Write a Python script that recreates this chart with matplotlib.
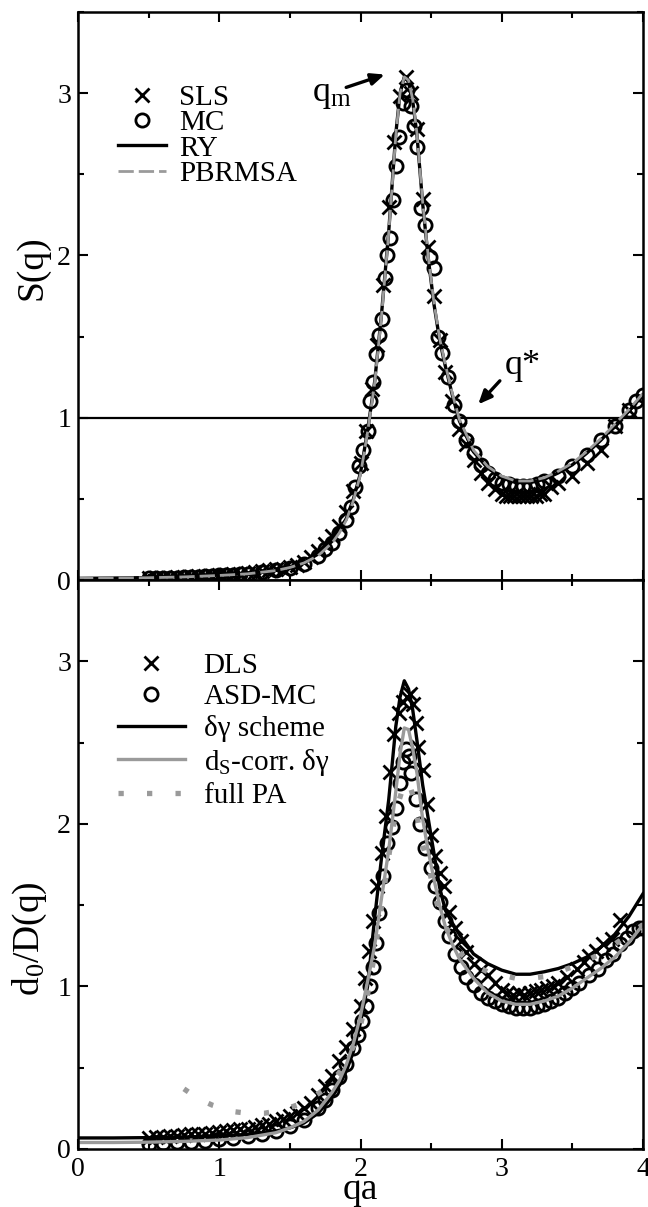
import matplotlib.pyplot as plt
from matplotlib.ticker import MultipleLocator

plt.rcParams['font.family'] = ['Liberation Serif', 'DejaVu Serif']
plt.rcParams['mathtext.fontset'] = 'custom'
plt.rcParams['mathtext.rm'] = 'Liberation Serif'
plt.rcParams['mathtext.it'] = 'Liberation Serif:italic'

# ---- static structure factor S(q) ----
q_th = [0, 0.25, 0.5, 0.75, 1.0, 1.2, 1.4, 1.5, 1.6, 1.7, 1.8, 1.85, 1.9, 1.95,
        2.0, 2.05, 2.1, 2.15, 2.2, 2.25, 2.28, 2.31, 2.34, 2.37, 2.4, 2.44, 2.48,
        2.52, 2.56, 2.6, 2.65, 2.7, 2.8, 2.9, 3.0, 3.1, 3.2, 3.3, 3.4, 3.5, 3.6,
        3.7, 3.8, 3.9, 4.0]
s_ry = [0.01, 0.012, 0.015, 0.02, 0.03, 0.04, 0.06, 0.08, 0.11, 0.16, 0.24, 0.30,
        0.38, 0.50, 0.66, 0.92, 1.22, 1.65, 2.15, 2.75, 3.00, 3.10, 3.07, 2.95,
        2.74, 2.32, 1.98, 1.70, 1.48, 1.32, 1.14, 0.98, 0.79, 0.69, 0.63, 0.60,
        0.60, 0.62, 0.66, 0.71, 0.78, 0.86, 0.95, 1.04, 1.14]
s_pb = [0.01, 0.012, 0.014, 0.019, 0.028, 0.038, 0.058, 0.077, 0.105, 0.15, 0.23,
        0.29, 0.37, 0.49, 0.65, 0.91, 1.21, 1.64, 2.14, 2.74, 3.00, 3.10, 3.08,
        2.96, 2.75, 2.33, 1.99, 1.71, 1.49, 1.33, 1.15, 0.99, 0.80, 0.70, 0.64,
        0.61, 0.61, 0.63, 0.67, 0.72, 0.79, 0.87, 0.96, 1.05, 1.15]

q_sls = [0.5, 0.55, 0.6, 0.65, 0.7, 0.75, 0.8, 0.85, 0.9, 0.95, 1.0, 1.05, 1.1,
         1.15, 1.2, 1.25, 1.3, 1.35, 1.4, 1.45, 1.5, 1.55, 1.6, 1.65, 1.7, 1.75,
         1.8, 1.85, 1.9, 1.95, 2.0, 2.04, 2.08, 2.12, 2.16, 2.2, 2.24, 2.28, 2.32,
         2.36, 2.4, 2.44, 2.48, 2.52, 2.56, 2.6, 2.65, 2.7, 2.75, 2.8, 2.85, 2.9,
         2.95, 3.0, 3.03, 3.06, 3.09, 3.12, 3.15, 3.18, 3.21, 3.24, 3.27, 3.3,
         3.35, 3.4, 3.5, 3.6, 3.7, 3.8, 3.9]
s_sls = [0.01, 0.012, 0.013, 0.015, 0.016, 0.018, 0.02, 0.022, 0.025, 0.027,
         0.03, 0.033, 0.036, 0.04, 0.045, 0.05, 0.055, 0.06, 0.065, 0.07, 0.08,
         0.09, 0.11, 0.14, 0.18, 0.22, 0.27, 0.33, 0.42, 0.55, 0.72, 0.92, 1.18,
         1.45, 1.82, 2.30, 2.70, 2.98, 3.10, 3.00, 2.78, 2.35, 2.05, 1.75, 1.48,
         1.28, 1.10, 0.93, 0.84, 0.74, 0.66, 0.60, 0.56, 0.53, 0.52, 0.52, 0.52,
         0.52, 0.52, 0.52, 0.52, 0.52, 0.53, 0.53, 0.57, 0.60, 0.64, 0.72, 0.80,
         0.95, 1.05]

q_mc = [0.5, 0.55, 0.6, 0.65, 0.7, 0.75, 0.8, 0.85, 0.9, 0.95, 1.0, 1.05, 1.1,
        1.15, 1.2, 1.3, 1.4, 1.5, 1.6, 1.7, 1.75, 1.8, 1.85, 1.9, 1.93, 1.96,
        1.99, 2.02, 2.05, 2.07, 2.09, 2.11, 2.13, 2.15, 2.17, 2.19, 2.21, 2.23,
        2.25, 2.27, 2.30, 2.33, 2.36, 2.38, 2.40, 2.43, 2.46, 2.49, 2.52, 2.55,
        2.58, 2.62, 2.66, 2.70, 2.75, 2.8, 2.85, 2.9, 2.95, 3.0, 3.05, 3.1, 3.15,
        3.2, 3.25, 3.3, 3.4, 3.5, 3.6, 3.7, 3.8, 3.9, 3.95, 4.0]
s_mc = [0.01, 0.011, 0.012, 0.013, 0.015, 0.016, 0.018, 0.02, 0.022, 0.025,
        0.028, 0.03, 0.033, 0.036, 0.04, 0.05, 0.06, 0.075, 0.10, 0.15, 0.19,
        0.23, 0.29, 0.37, 0.45, 0.57, 0.70, 0.80, 0.92, 1.10, 1.22, 1.39, 1.51,
        1.61, 1.86, 2.00, 2.11, 2.34, 2.55, 2.73, 2.94, 3.02, 2.92, 2.80, 2.67,
        2.29, 2.19, 1.99, 1.92, 1.50, 1.40, 1.25, 1.08, 0.98, 0.86, 0.78, 0.71,
        0.66, 0.62, 0.60, 0.59, 0.58, 0.58, 0.58, 0.59, 0.61, 0.64, 0.70, 0.77,
        0.86, 0.95, 1.05, 1.10, 1.14]

# ---- inverse collective diffusion d0/D(q) ----
d_dg = [0.068, 0.068, 0.07, 0.073, 0.08, 0.09, 0.11, 0.13, 0.16, 0.22, 0.32,
        0.39, 0.48, 0.60, 0.78, 1.00, 1.42, 1.80, 2.15, 2.60, 2.78, 2.88, 2.83,
        2.70, 2.51, 2.24, 2.03, 1.82, 1.61, 1.47, 1.39, 1.32, 1.20, 1.14, 1.10,
        1.075, 1.075, 1.09, 1.11, 1.14, 1.18, 1.24, 1.32, 1.43, 1.57]
d_ds = [0.04, 0.04, 0.042, 0.047, 0.055, 0.07, 0.10, 0.13, 0.17, 0.24, 0.35,
        0.42, 0.52, 0.65, 0.82, 1.03, 1.25, 1.55, 1.84, 2.20, 2.43, 2.59, 2.58,
        2.46, 2.31, 2.03, 1.83, 1.66, 1.50, 1.37, 1.26, 1.17, 1.05, 0.96, 0.91,
        0.89, 0.89, 0.91, 0.94, 0.99, 1.05, 1.11, 1.18, 1.27, 1.38]

q_pa = [0.75, 0.85, 0.95, 1.1, 1.2, 1.32, 1.45, 1.55, 1.65, 1.75, 1.85, 1.95,
        2.0, 2.05, 2.1, 2.15, 2.2, 2.25, 2.3, 2.34, 2.38, 2.43, 2.48, 2.52, 2.56,
        2.6, 2.7, 2.8, 2.9, 3.0, 3.1, 3.2, 3.3, 3.4, 3.5, 3.6, 3.7, 3.8, 3.9, 4.0]
d_pa = [0.37, 0.31, 0.27, 0.23, 0.22, 0.22, 0.24, 0.27, 0.31, 0.37, 0.47, 0.63,
        0.76, 0.95, 1.20, 1.50, 1.80, 2.08, 2.22, 2.26, 2.15, 1.90, 1.75, 1.58,
        1.45, 1.37, 1.21, 1.13, 1.09, 1.07, 1.05, 1.05, 1.06, 1.09, 1.12, 1.16,
        1.20, 1.26, 1.32, 1.38]

q_dls = [0.5, 0.55, 0.6, 0.65, 0.7, 0.75, 0.8, 0.85, 0.9, 0.95, 1.0, 1.05, 1.1,
         1.15, 1.2, 1.25, 1.3, 1.35, 1.4, 1.45, 1.5, 1.55, 1.6, 1.65, 1.7, 1.75,
         1.8, 1.85, 1.9, 1.95, 2.0, 2.03, 2.06, 2.09, 2.12, 2.15, 2.18, 2.21, 2.24,
         2.27, 2.3, 2.33, 2.35, 2.37, 2.39, 2.41, 2.44, 2.47, 2.5, 2.53, 2.56,
         2.59, 2.63, 2.67, 2.71, 2.75, 2.8, 2.85, 2.9, 2.95, 3.0, 3.04, 3.08,
         3.12, 3.16, 3.2, 3.24, 3.28, 3.32, 3.36, 3.4, 3.46, 3.53, 3.58, 3.62,
         3.67, 3.72, 3.78, 3.84]
d_dls = [0.07, 0.075, 0.075, 0.08, 0.08, 0.085, 0.09, 0.09, 0.095, 0.10, 0.105,
         0.11, 0.115, 0.12, 0.125, 0.135, 0.145, 0.155, 0.17, 0.185, 0.20, 0.22,
         0.25, 0.28, 0.33, 0.39, 0.45, 0.54, 0.63, 0.74, 0.88, 1.05, 1.22, 1.40,
         1.62, 1.82, 2.05, 2.32, 2.55, 2.68, 2.75, 2.78, 2.80, 2.74, 2.62, 2.47,
         2.33, 2.12, 1.93, 1.80, 1.70, 1.62, 1.46, 1.36, 1.28, 1.21, 1.14, 1.10,
         1.07, 1.02, 0.98, 0.96, 0.95, 0.96, 0.95, 0.96, 0.97, 0.98, 0.99, 1.00,
         1.02, 1.06, 1.11, 1.15, 1.19, 1.22, 1.26, 1.29, 1.41]

q_asd = [0.5, 0.6, 0.7, 0.8, 0.9, 1.0, 1.1, 1.2, 1.3, 1.4, 1.5, 1.6, 1.7, 1.75,
         1.8, 1.85, 1.9, 1.95, 1.98, 2.01, 2.04, 2.07, 2.09, 2.11, 2.13, 2.16,
         2.19, 2.22, 2.25, 2.28, 2.30, 2.32, 2.34, 2.36, 2.39, 2.42, 2.46, 2.50,
         2.53, 2.56, 2.60, 2.63, 2.67, 2.71, 2.75, 2.8, 2.85, 2.9, 2.95, 3.0,
         3.05, 3.1, 3.15, 3.2, 3.25, 3.3, 3.35, 3.4, 3.45, 3.5, 3.55, 3.62, 3.68,
         3.74, 3.79, 3.84, 3.89, 3.93, 3.97, 4.0]
d_asd = [0.03, 0.035, 0.04, 0.045, 0.05, 0.06, 0.07, 0.08, 0.095, 0.11, 0.14,
         0.18, 0.25, 0.30, 0.36, 0.44, 0.52, 0.62, 0.70, 0.79, 0.88, 1.00, 1.12,
         1.27, 1.45, 1.68, 1.88, 1.98, 2.10, 2.25, 2.38, 2.46, 2.42, 2.31, 2.15,
         2.00, 1.85, 1.73, 1.62, 1.52, 1.40, 1.31, 1.20, 1.12, 1.06, 1.01, 0.96,
         0.93, 0.91, 0.89, 0.88, 0.87, 0.87, 0.87, 0.88, 0.89, 0.91, 0.93, 0.96,
         0.99, 1.02, 1.07, 1.11, 1.16, 1.20, 1.26, 1.30, 1.34, 1.36, 1.36]

GRAY = '#9a9a9a'
FS = 21

fig = plt.figure(figsize=(6.48, 12.07), dpi=100)
ax1 = fig.add_axes([78 / 648, 1 - 580 / 1207, 565 / 648, 568 / 1207])
ax2 = fig.add_axes([78 / 648, 1 - 1149 / 1207, 565 / 648, 569 / 1207])

mk = dict(linestyle='none', mfc='none', mec='black', ms=9.5, mew=2.0)
arrow = dict(arrowstyle='-|>,head_length=0.8,head_width=0.35',
             color='black', lw=2.4)

# top panel
ax1.axhline(1.0, color='black', lw=1.6, zorder=1)
ax1.plot(q_sls, s_sls, marker='x', label='SLS', **mk)
ax1.plot(q_mc, s_mc, marker='o', label='MC', **mk)
ax1.plot(q_th, s_ry, color='black', lw=2.4, label='RY')
ax1.plot(q_th, s_pb, color=GRAY, lw=2.0, dashes=(5.5, 1.8), label='PBRMSA')

ax1.annotate('', xy=(2.19, 3.12), xytext=(1.88, 3.03), arrowprops=arrow)
ax1.text(1.66, 2.95, r'q$_{\rm m}$', fontsize=26, ha='left', va='baseline')
ax1.annotate('', xy=(2.82, 1.07), xytext=(3.0, 1.24), arrowprops=arrow)
ax1.text(3.02, 1.27, 'q*', fontsize=26, ha='left', va='baseline')

ax1.set_ylabel('S(q)', fontsize=27)
ax1.yaxis.set_label_coords(-0.05, 0.55)
ax1.legend(loc='upper left', bbox_to_anchor=(0.07, 0.872), frameon=False,
           fontsize=FS, numpoints=1, handlelength=1.65, handletextpad=0.45,
           labelspacing=-0.04, borderpad=0, borderaxespad=0)

# bottom panel
ax2.plot(q_dls, d_dls, marker='x', label='DLS', **mk)
ax2.plot(q_asd, d_asd, marker='o', label='ASD-MC', **mk)
ax2.plot(q_th, d_dg, color='black', lw=2.4, label=r'δγ scheme')
ax2.plot(q_th, d_ds, color=GRAY, lw=2.4, label=r'd$_{\rm S}$-corr. δγ')
ax2.plot(q_pa, d_pa, color=GRAY, lw=3.8, dashes=(1, 4.4), label='full PA')

ax2.set_xlabel('qa', fontsize=27)
ax2.xaxis.set_label_coords(0.5, -0.042)
ax2.set_ylabel(r'd$_0$/D(q)', fontsize=27)
ax2.yaxis.set_label_coords(-0.052, 0.37)
ax2.legend(loc='upper left', bbox_to_anchor=(0.07, 0.872), frameon=False,
           fontsize=FS, numpoints=1, handlelength=2.3, handletextpad=0.65,
           labelspacing=0.16, borderpad=0, borderaxespad=0)

for ax in (ax1, ax2):
    ax.set_xlim(0, 4)
    ax.set_ylim(0, 3.5)
    ax.xaxis.set_major_locator(MultipleLocator(1))
    ax.xaxis.set_minor_locator(MultipleLocator(0.5))
    ax.yaxis.set_major_locator(MultipleLocator(1))
    ax.yaxis.set_minor_locator(MultipleLocator(0.5))
    ax.tick_params(which='both', direction='in', top=True, right=True,
                   width=1.5, labelsize=20, pad=5)
    ax.tick_params(axis='x', which='both', pad=6)
    ax.tick_params(which='major', length=7)
    ax.tick_params(which='minor', length=4)
    for sp in ax.spines.values():
        sp.set_linewidth(1.8)

ax1.tick_params(labelbottom=False)

fig.savefig('out.png', dpi=100)
